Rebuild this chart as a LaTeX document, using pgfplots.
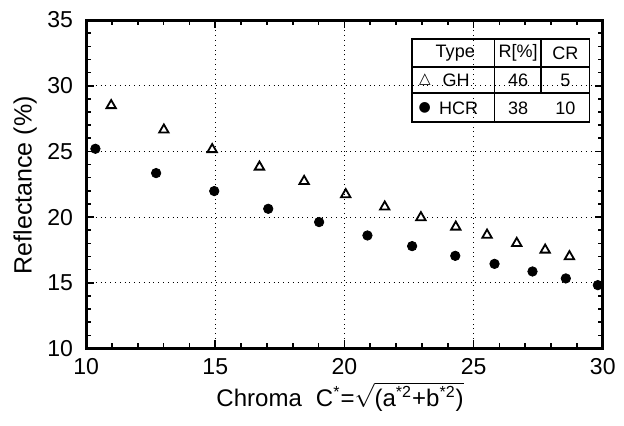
\documentclass[border=0pt]{standalone}
\usepackage{fontspec}
\setmainfont{Liberation Sans}
\newfontfamily\symfont{DejaVu Sans}
\usepackage{amsmath}
\usepackage{pgfplots}
\usepackage{pgfplotstable}
\pgfplotsset{compat=1.18}

% GH (open triangles)
\pgfplotstableread{
x y
10.97 28.50
13.01 26.64
14.88 25.15
16.71 23.82
18.44 22.73
20.05 21.72
21.56 20.78
22.96 19.97
24.31 19.25
25.52 18.64
26.67 18.01
27.77 17.50
28.71 17.00
}\ghdata

% HCR (filled circles)
\pgfplotstableread{
x y
10.36 25.20
12.71 23.35
14.96 21.98
17.05 20.63
19.02 19.62
20.89 18.60
22.62 17.79
24.29 17.05
25.81 16.44
27.28 15.86
28.57 15.33
29.81 14.82
}\hcrdata

\begin{document}
\begin{tikzpicture}
\path[use as bounding box] (-43pt,-38.5pt) rectangle (268.6pt,174pt);
\begin{axis}[
    at={(0,0)}, anchor=south west,
    scale only axis,
    width=258pt, height=164pt,
    xmin=10, xmax=30, ymin=10, ymax=35,
    xtick={10,15,...,30}, ytick={10,15,...,35},
    minor x tick num=4, minor y tick num=4,
    tick align=inside, xtick pos=both, ytick pos=both,
    major tick length=4pt, minor tick length=2.5pt,
    every tick/.style={black, line width=0.8pt},
    axis line style={line width=1.5pt},
    grid=major,
    major grid style={black, dotted, line width=0.5pt},
    tick label style={font=\fontsize{11.5}{13}\selectfont},
    xticklabel style={yshift=-1.5pt},
    yticklabel style={xshift=-3pt},
    /pgf/number format/assume math mode=true,
    xlabel={Chroma\hspace{7pt}C\textsuperscript{*}=$\sqrt{\smash[b]{\text{(a\textsuperscript{*2}+b\textsuperscript{*2})}}}$},
    ylabel={Reflectance (\%)},
    xlabel style={font=\fontsize{12}{14}\selectfont, inner sep=0pt, at={(axis description cs:0.4916,-0.176)}, anchor=base},
    ylabel style={font=\fontsize{12.5}{14}\selectfont, at={(axis description cs:-0.118,0.497)}, anchor=center, rotate=0},
    clip=false,
]
\addplot[only marks, mark=triangle, mark size=2.7pt, mark options={black, line width=0.9pt}] table {\ghdata};
\addplot[only marks, mark=*, mark size=2.35pt, mark options={black}] table {\hcrdata};

% table-like legend
\draw[line width=0.9pt] (axis cs:22.61,33.55) rectangle (axis cs:29.49,27.21);
\draw[line width=0.9pt] (axis cs:22.61,31.44) -- (axis cs:29.49,31.44);
\draw[line width=0.9pt] (axis cs:22.61,29.42) -- (axis cs:29.49,29.42);
\draw[line width=0.9pt] (axis cs:25.81,33.55) -- (axis cs:25.81,27.21);
\draw[line width=0.9pt] (axis cs:27.62,33.55) -- (axis cs:27.62,29.42);
\begin{scope}[every node/.style={font=\fontsize{9}{11}\selectfont, inner sep=0pt}]
\node at (axis cs:24.29,32.50) {Type};
\node at (axis cs:26.72,32.50) {R[\%]};
\node at (axis cs:28.55,32.50) {CR};
\node at (axis cs:23.11,30.43) {\symfont\fontsize{7.5}{9}\selectfont △};
\node at (axis cs:24.32,30.43) {GH};
\node at (axis cs:26.72,30.43) {46};
\node at (axis cs:28.55,30.43) {5};
\node at (axis cs:23.11,28.31) {\symfont\fontsize{7}{8}\selectfont ●};
\node at (axis cs:24.42,28.31) {HCR};
\node at (axis cs:26.72,28.31) {38};
\node at (axis cs:28.55,28.31) {10};
\end{scope}
\end{axis}
\end{tikzpicture}
\end{document}
